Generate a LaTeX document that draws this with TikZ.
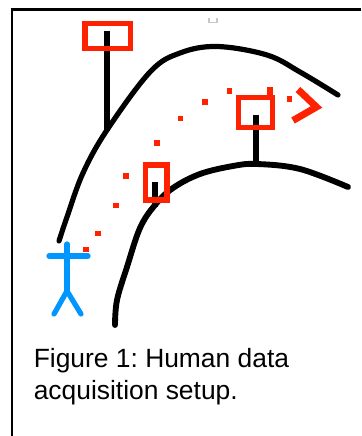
\documentclass[tikz,border=0pt]{standalone}
\usepackage{fontspec}
\setmainfont{Liberation Sans}
\frenchspacing
\definecolor{markred}{RGB}{255,34,0}
\definecolor{walkerblue}{RGB}{0,150,255}
\definecolor{specgray}{RGB}{200,200,200}
\begin{document}
\begin{tikzpicture}[x=0.75pt,y=-0.75pt,
  frameline/.style={line width=1.9pt,black},
  wall/.style={line width=3.9pt,black,line cap=round},
  stem/.style={line width=4.4pt,black},
  camera/.style={line width=4pt,markred},
  walker/.style={line width=3.9pt,walkerblue,line cap=round,line join=round},
  captext/.style={inner sep=0pt,anchor=base west,font=\fontsize{19.8}{24}\selectfont}]
\useasboundingbox (0,0) rectangle (361,436);
% frame (top and left edges only)
\draw[frameline] (11,9.5) -- (361,9.5);
\draw[frameline] (12,8.5) -- (12,436);
% small gray speck
\draw[specgray,line width=1.3pt] (209,18) -- (209,22.5) -- (217,22.5) -- (217,18);
% outer wall
\draw[wall] plot[smooth,tension=0.6] coordinates
  {(59,241) (67,217) (83,173) (107,130) (150,72) (180,53) (217,46.5) (267,55) (300,72) (338,95)};
% inner wall
\draw[wall,line width=4.4pt] plot[smooth,tension=0.6] coordinates
  {(115,325) (117,300) (127,267) (140,228) (155,205) (173,188) (200,174) (233,166) (257,164) (300,169) (348,187)};
% camera stems
\draw[stem] (107,31) -- (107,131);
\draw[stem] (155,182) -- (155,207);
\draw[stem] (256,115) -- (256,165);
% cameras
\draw[camera] (85,23.7) rectangle (130.3,48.3);
\draw[camera] (145.5,165) rectangle (167,200);
\draw[camera] (238.5,97.5) rectangle (272.3,127.7);
\draw[camera] (270,87) -- (270,97.5);
% trajectory dots
\foreach \p in {(289.3,99),(229.3,90.7),(204.7,101.7),(180.3,118.3),(157,142.7),
                (126,175.7),(115.7,205.3),(97.7,233.3),(85.7,249.3)}
  \fill[markred] \p +(-2.8,-2.8) rectangle +(2.8,2.8);
% heading chevron
\draw[markred,line width=5.2pt,line join=miter] (298,89.5) -- (316.5,107) -- (293,120.5);
% person
\draw[walker] (67,244) -- (67,291);
\draw[walker] (49,256) -- (88,256);
\draw[walker] (54,314) -- (67,291) -- (81,314);
% caption
\node[captext] (cap1) at (33.5,367) {Figure 1: Human data};
\node[captext] (cap2) at (33.5,399) {acquisition setup.};
\end{tikzpicture}
\end{document}
